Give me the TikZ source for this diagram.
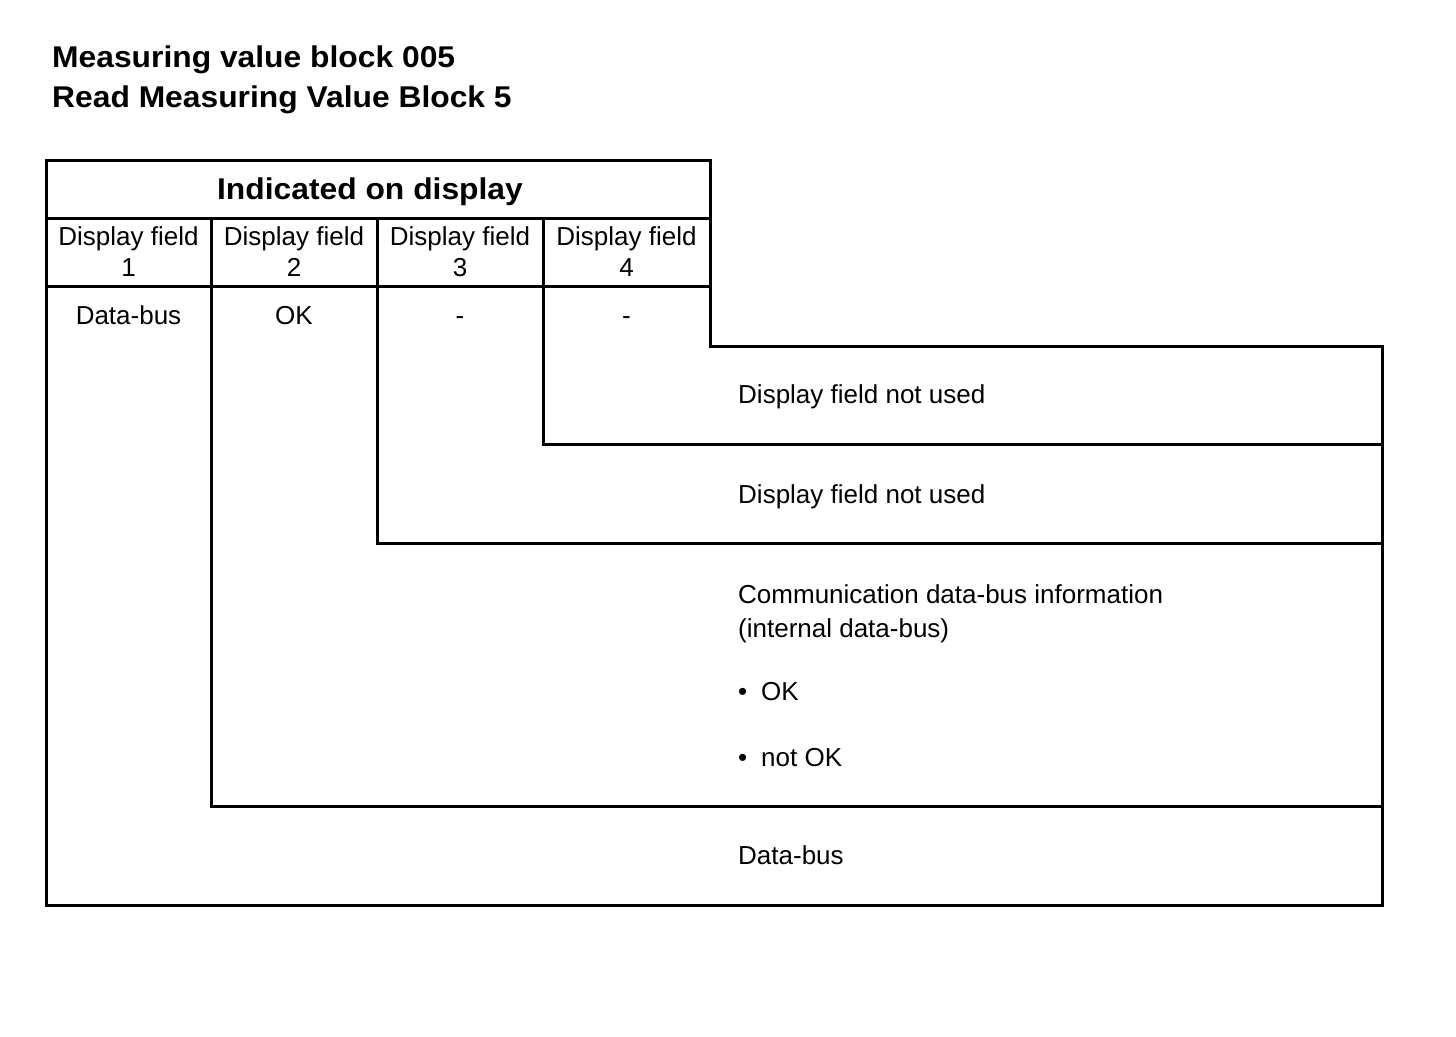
\documentclass[tikz,border=0pt]{standalone}
\usepackage{fontspec}
\setmainfont{Liberation Sans}
\newfontfamily\titlefont[FakeStretch=1.06]{Liberation Sans}
\begin{document}
\begin{tikzpicture}[x=1pt,y=-1pt,
  frame/.style={line width=3pt,line join=miter,line cap=rect},
  ttl/.style={inner sep=0pt,anchor=base west,font=\titlefont\bfseries\fontsize{30}{36}\selectfont},
  hdr/.style={inner sep=0pt,anchor=base,font=\titlefont\bfseries\fontsize{30}{36}\selectfont},
  cell/.style={inner sep=0pt,anchor=base,font=\fontsize{26}{32}\selectfont},
  txt/.style={inner sep=0pt,anchor=base west,font=\fontsize{26}{32}\selectfont}]
\useasboundingbox[fill=white] (0,0) rectangle (1456,1036);
% titles
\node[ttl] (t1) at (52,67) {Measuring value block 005};
\node[ttl] (t2) at (52,107) {Read Measuring Value Block 5};
% frame lines
\draw[frame] (46,160) -- (710,160) -- (710,346) -- (1382,346) -- (1382,905) -- (46,905) -- cycle;
\draw[frame] (46,218) -- (710,218);
\draw[frame] (46,286) -- (710,286);
\draw[frame] (211,218) -- (211,806) -- (1382,806);
\draw[frame] (377,218) -- (377,543) -- (1382,543);
\draw[frame] (543,218) -- (543,444) -- (1382,444);
% header
\node[hdr] (hd) at (370,199) {Indicated on display};
\node[cell] (f1) at (128.5,245) {Display field};
\node[cell] (f2) at (294,245) {Display field};
\node[cell] (f3) at (460,245) {Display field};
\node[cell] (f4) at (626.5,245) {Display field};
\node[cell] (n1) at (128.5,276) {1};
\node[cell] (n2) at (294,276) {2};
\node[cell] (n3) at (460,276) {3};
\node[cell] (n4) at (626.5,276) {4};
\node[cell] (v1) at (128.5,324) {Data-bus};
\node[cell] (v2) at (294,324) {OK};
\node[cell] (v3) at (460,324) {-};
\node[cell] (v4) at (626.5,324) {-};
% descriptions
\node[txt] (d4) at (738,403) {Display field not used};
\node[txt] (d3) at (738,503) {Display field not used};
\node[txt] (d2a) at (738,603) {Communication data-bus information};
\node[txt] (d2b) at (738,637) {(internal data-bus)};
\node[txt] (b1) at (738,700) {\makebox[23pt][l]{•}OK};
\node[txt] (b2) at (738,766) {\makebox[23pt][l]{•}not OK};
\node[txt] (d1) at (738,864) {Data-bus};
\end{tikzpicture}
\end{document}
